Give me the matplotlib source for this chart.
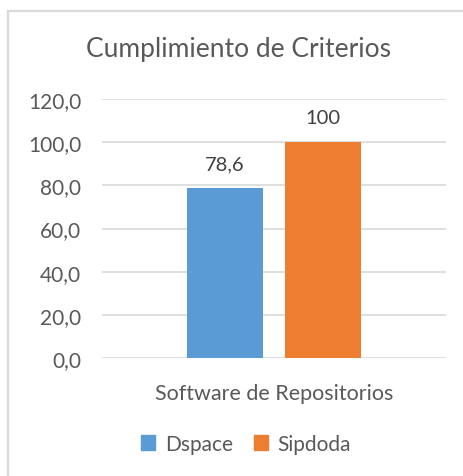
import matplotlib
matplotlib.use("Agg")
import matplotlib.pyplot as plt
from matplotlib.lines import Line2D
from matplotlib.patches import Patch

title = "Cumplimiento de Criterios"
category = "Software de Repositorios"
series_names = ["Dspace", "Sipdoda"]
series_values = [78.6, 100]
value_labels = ["78,6", "100"]
y_ticks = [0, 20, 40, 60, 80, 100, 120]
y_tick_labels = ["0,0", "20,0", "40,0", "60,0", "80,0", "100,0", "120,0"]
colors = ["#5B9BD5", "#ED7D31"]

plt.rcParams['font.family'] = ['Lato', 'DejaVu Sans']

W, H = 464, 477
fig = plt.figure(figsize=(W / 100, H / 100), dpi=100)

# outer chart border (left and top visible)
fig.add_artist(Line2D([8 / W, 8 / W], [0, 1 - 11.5 / H], color="#D9D9D9", lw=1.6,
                      transform=fig.transFigure))
fig.add_artist(Line2D([8 / W, 1], [1 - 11.5 / H, 1 - 11.5 / H], color="#D9D9D9", lw=1.6,
                      transform=fig.transFigure))

ax = fig.add_axes([102 / W, 1 - 359 / H, 344 / W, 259 / H])
ax.set_xlim(-0.5, 0.5)
ax.set_ylim(0, 120)

bw = 0.221
offsets = [-0.1424, 0.1424]
for off, v, c, lab in zip(offsets, series_values, colors, value_labels):
    ax.bar(off, v, width=bw, color=c, zorder=3)
    ax.text(off, v + 7.3, lab, ha="center", va="bottom", fontsize=14.5, color="#404040")

ax.set_yticks(y_ticks)
ax.set_yticklabels(y_tick_labels, fontsize=15, color="#595959")
ax.tick_params(axis="y", length=0, pad=15)
ax.grid(axis="y", color="#D9D9D9", lw=1.2, zorder=0)
for s in ax.spines.values():
    s.set_visible(False)
ax.set_xticks([0])
ax.set_xticklabels([category], fontsize=15.5, color="#595959")
ax.tick_params(axis="x", length=0, pad=18)

fig.text(0.5 + 6 / W, 1 - 50 / H, title, ha="center", va="center", fontsize=19,
         color="#595959")

handles = [Patch(color=c) for c in colors]
fig.legend(handles, series_names, loc="center", bbox_to_anchor=(246 / W, 1 - 445 / H),
           ncol=2, frameon=False, fontsize=15, handlelength=0.7, handleheight=0.7,
           handletextpad=0.45, columnspacing=1.0, labelcolor="#595959")

fig.savefig("out.png", dpi=100)
